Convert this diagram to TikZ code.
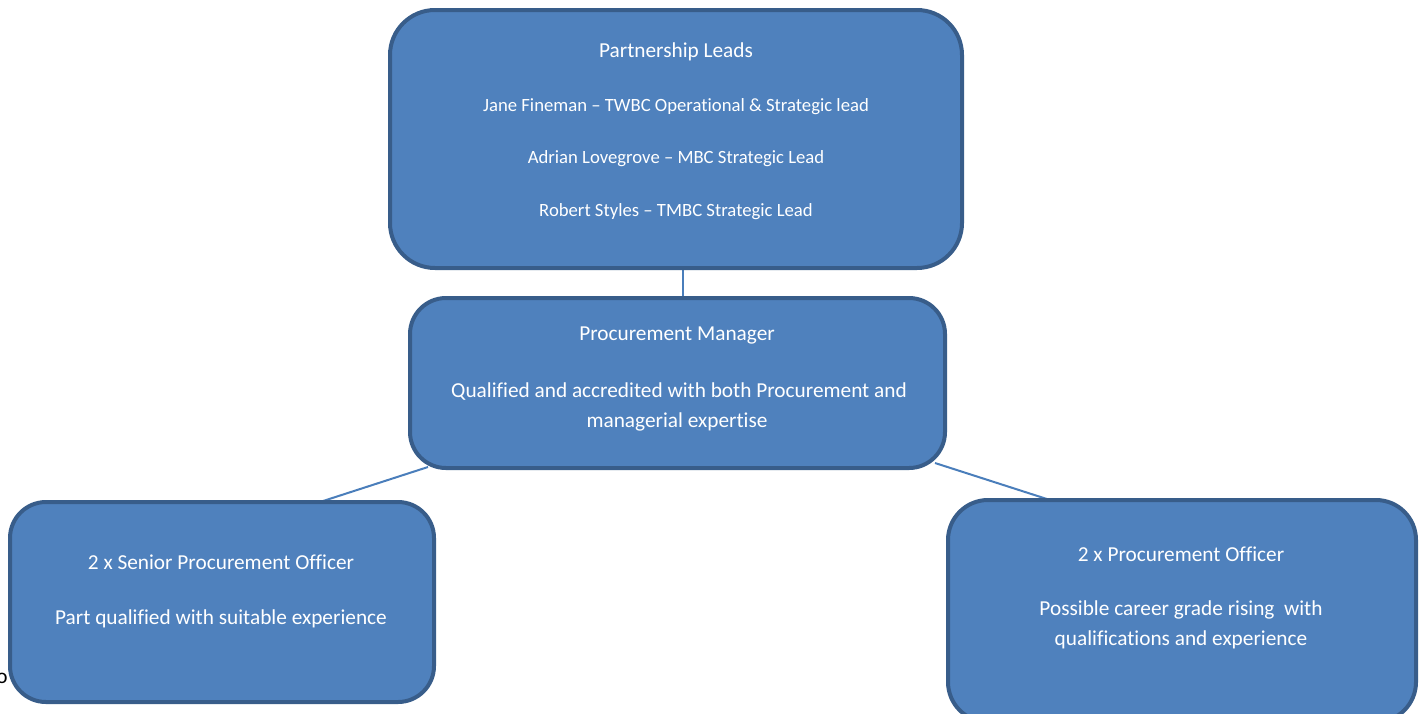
\documentclass[tikz,border=0pt]{standalone}
\usepackage{fontspec}
\setmainfont[Ligatures={NoCommon}]{Carlito}
\definecolor{boxfill}{HTML}{4F81BD}
\definecolor{boxline}{HTML}{385D8A}
\definecolor{conn}{HTML}{4A7EBB}
\begin{document}
\begin{tikzpicture}[x=1pt,y=-1pt,
  orgbox/.style={draw=boxline, line width=4pt, fill=boxfill},
  lbl/.style={text=white, inner sep=0pt, anchor=center},
  big/.style={lbl, font=\fontsize{21.3}{25}\selectfont},
  small/.style={lbl, font=\fontsize{18.7}{22}\selectfont},
  link/.style={draw=conn, line width=2pt}]
\useasboundingbox (0,0) rectangle (1423,713);
% connectors
\coordinate (tA) at (683,268);
\coordinate (mA) at (683,298);
\coordinate (mL) at (428,467);
\coordinate (lT) at (320,502);
\coordinate (mR) at (935,463);
\coordinate (rT) at (1050,500);
\draw[link] (tA) -- (mA);
\draw[link] (mL) -- (lT);
\draw[link] (mR) -- (rT);
% boxes
\draw[orgbox, rounded corners=45pt] (390,10) rectangle (962,268);
\draw[orgbox, rounded corners=36pt] (410,298) rectangle (945,468);
\draw[orgbox, rounded corners=36pt] (10,502) rectangle (434,702);
\draw[orgbox, rounded corners=40pt] (948,500) rectangle (1416,722);
% texts
\node[big] (t1) at (676,52) {Partnership Leads};
\node[small] (t2) at (676,107) {Jane Fineman – TWBC Operational \& Strategic lead};
\node[small] (t3) at (676,159) {Adrian Lovegrove – MBC Strategic Lead};
\node[small] (t4) at (676,212) {Robert Styles – TMBC Strategic Lead};
\node[big] (m1) at (677,335) {Procurement Manager};
\node[big] (m2) at (679,392) {Qualified and accredited with both Procurement and};
\node[big] (m3) at (677,422) {managerial expertise};
\node[big] (l1) at (221,562) {2 x Senior Procurement Officer};
\node[big] (l2) at (221,619) {Part qualified with suitable experience};
\node[big] (r1) at (1181,554) {2 x Procurement Officer};
\node[big] (r2) at (1181,610) {Possible career grade rising\ \ with};
\node[big] (r3) at (1181,640) {qualifications and experience};
\node[text=black, inner sep=0pt, font=\fontsize{21.3}{25}\selectfont] (stray) at (2,678) {o};
\end{tikzpicture}
\end{document}
